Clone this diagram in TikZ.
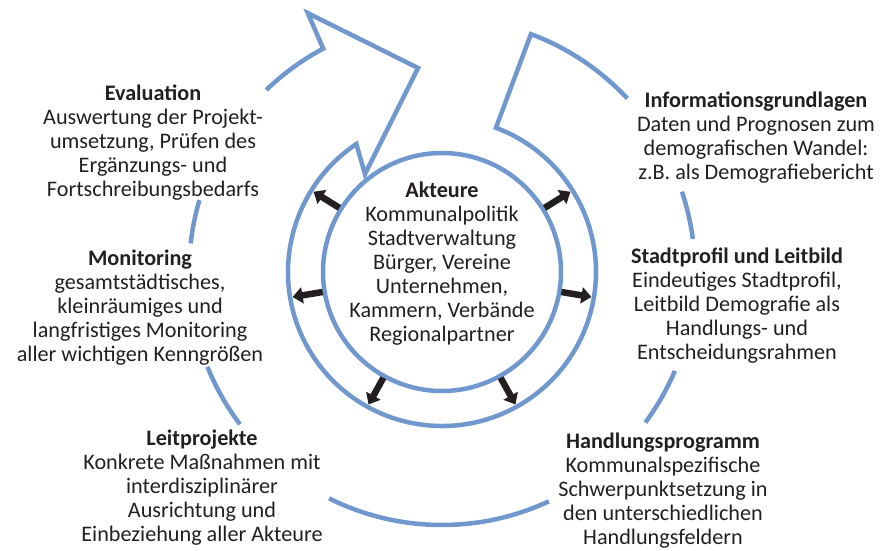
\documentclass[tikz,border=0pt]{standalone}
\usepackage{fontspec}
\setmainfont{Carlito}
\usetikzlibrary{arrows.meta}
\definecolor{ringblue}{RGB}{113,152,206}
\definecolor{inkgray}{RGB}{35,31,32}

\begin{document}
\begin{tikzpicture}[x=1pt, y=1pt,
    ring/.style={draw=ringblue, line width=4.5pt},
    push/.style={-{Triangle[length=10pt, width=16pt]}, line width=6.5pt, draw=inkgray},
    block/.style={align=center, inner sep=0pt, anchor=base, text=inkgray,
                  font=\fontsize{22.2}{24}\selectfont}]
    % Frame, centre of the rings at the origin
    \useasboundingbox (-442,-278) rectangle (438,272);

    % Inner circle
    \draw[ring] (0,0) circle (119);

    % Arrowhead and tail of the ring band
    \coordinate (TailOut) at (69.5:254);
    \coordinate (HeadOut) at (118:253);
    \coordinate (BarbOut) at (117.4:291.6);
    \coordinate (Tip) at (96.7:205.4);
    \coordinate (BarbIn) at (128.2:124.6);
    \coordinate (HeadIn) at (123.8:154);

    % Ring band outline
    \draw[ring] (134:253) arc[start angle=134, end angle=118, radius=253]
        -- (BarbOut) -- (Tip) -- (BarbIn) -- (HeadIn)
        arc[start angle=123.8, end angle=429.5, radius=154]
        -- (TailOut) arc[start angle=69.5, end angle=43, radius=253];

    % Outer edge between the labels
    \foreach \a/\b in {18.5/7.5, -23/-36.5, -65/-116.5, -143/-158, 173.5/163.5}
      \draw[ring] (\a:253) arc[start angle=\a, end angle=\b, radius=253];

    % Arrows from the actors
    \foreach \a in {32, 148, -9.5, 189.5, -61, -119}
      \draw[push] (\a:121) -- (\a:151.5);

    % Labels (base = last line)
    \node[block] (akteure) at (0,-69) {\textbf{Akteure}\\Kommunalpolitik\\Stadtverwaltung\\B\"urger, Vereine\\Unternehmen,\\Kammern, Verb\"ande\\Regionalpartner};
    \node[block] (evaluation) at (-289,76) {\textbf{Evaluation}\\Auswertung der Projekt-\\umsetzung, Pr\"ufen des\\Erg\"anzungs- und\\Fortschreibungsbedarfs};
    \node[block] (monitoring) at (-302,-89) {\textbf{Monitoring}\\gesamtst\"adtisches,\\kleinr\"aumiges und\\langfristiges Monitoring\\aller wichtigen Kenngr\"o\ss en};
    \node[block] (leitprojekte) at (-240,-269) {\textbf{Leitprojekte}\\Konkrete Ma\ss nahmen mit\\interdisziplin\"arer\\Ausrichtung und\\Einbeziehung aller Akteure};
    \node[block] (handlung) at (221,-272) {\textbf{Handlungsprogramm}\\Kommunalspezifische\\Schwerpunktsetzung in\\den unterschiedlichen\\Handlungsfeldern};
    \node[block] (stadtprofil) at (295,-87) {\textbf{Stadtprofil und Leitbild}\\Eindeutiges Stadtprofil,\\Leitbild Demografie als\\Handlungs- und\\Entscheidungsrahmen};
    \node[block] (info) at (314,93) {\textbf{Informationsgrundlagen}\\Daten und Prognosen zum\\demografischen Wandel:\\z.B. als Demografiebericht};
\end{tikzpicture}
\end{document}
